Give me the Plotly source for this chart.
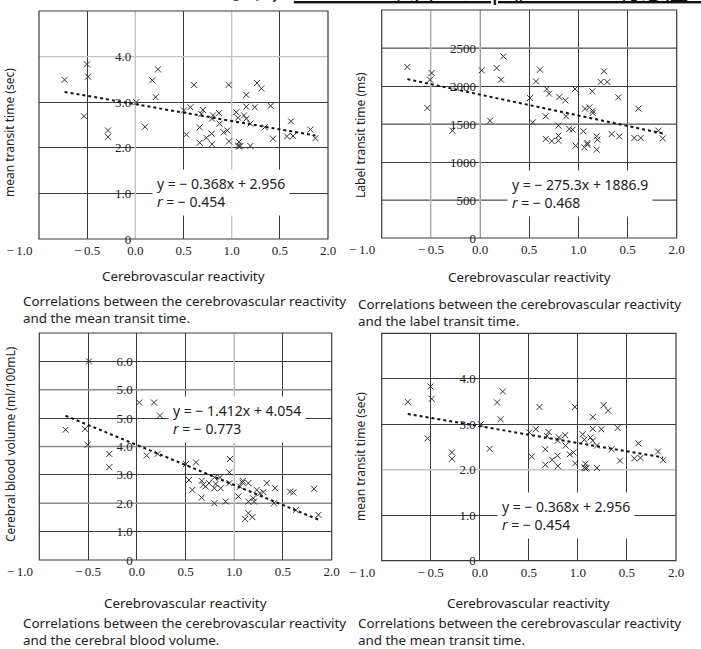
import plotly.graph_objects as go

# ---------------- data ----------------
# Panel A / D : CVR vs mean transit time (sec)
cvr_mtt = [-0.734, -0.502, -0.491, -0.533, -0.284, -0.284, 0.010, 0.100, 0.176, 0.235,
           0.211, 0.505, 0.529, 0.571, 0.609, 0.668, 0.668, 0.685, 0.702, 0.737,
           0.792, 0.796, 0.796, 0.806, 0.869, 0.875, 0.917, 0.955, 0.969, 0.972,
           1.048, 1.066, 1.076, 1.066, 1.076, 1.090, 1.128, 1.152, 1.152, 1.152,
           1.194, 1.194, 1.239, 1.263, 1.308, 1.343, 1.405, 1.429, 1.574, 1.616,
           1.637, 1.817, 1.869]
mtt = [3.49, 3.83, 3.56, 2.69, 2.38, 2.24, 3.00, 2.46, 3.48, 3.72,
       3.11, 2.82, 2.29, 2.89, 3.38, 2.45, 2.11, 2.74, 2.83, 2.22,
       2.31, 2.08, 2.64, 2.71, 2.76, 2.53, 2.34, 2.38, 3.38, 2.14,
       2.78, 2.66, 2.13, 2.05, 2.03, 2.04, 2.71, 3.16, 2.90, 2.64,
       2.53, 2.04, 2.89, 3.42, 3.30, 2.45, 2.92, 2.20, 2.25, 2.58,
       2.26, 2.40, 2.21]

# Panel B : CVR vs label transit time (ms)
cvr_ltt = [-0.739, -0.492, -0.508, -0.536, -0.281, 0.017, 0.102, 0.169, 0.237, 0.214,
           0.508, 0.536, 0.569, 0.610, 0.668, 0.668, 0.678, 0.702, 0.729, 0.797,
           0.797, 0.797, 0.807, 0.868, 0.875, 0.908, 0.942, 0.966, 0.973, 1.051,
           1.061, 1.068, 1.092, 1.092, 1.112, 1.146, 1.146, 1.142, 1.186, 1.193,
           1.186, 1.227, 1.261, 1.295, 1.339, 1.407, 1.417, 1.569, 1.610, 1.634,
           1.814, 1.858]
ltt = [2250, 2171, 2083, 1711, 1412, 2206, 1544, 2237, 2390, 2083,
       1842, 1522, 2061, 2215, 1601, 1303, 1961, 1899, 1276, 1478,
       1347, 1281, 1855, 1811, 1601, 1434, 1425, 1961, 1215, 1404,
       1193, 1702, 1228, 1250, 1719, 1675, 1645, 1930, 1338, 1294,
       1162, 2053, 2193, 2053, 1368, 1851, 1338, 1316, 1702, 1316,
       1412, 1311]

# Panel C : CVR vs cerebral blood volume (ml/100mL)
cvr_cbv = [-0.730, -0.531, -0.490, -0.504, -0.282, -0.282, 0.026, 0.102, 0.177, 0.238,
           0.215, 0.505, 0.536, 0.570, 0.608, 0.666, 0.666, 0.683, 0.707, 0.741,
           0.796, 0.796, 0.796, 0.810, 0.854, 0.861, 0.912, 0.957, 0.950, 0.950,
           1.042, 1.060, 1.083, 1.087, 1.111, 1.145, 1.145, 1.145, 1.186, 1.196,
           1.203, 1.231, 1.265, 1.299, 1.333, 1.408, 1.419, 1.573, 1.607, 1.631,
           1.819, 1.864]
cbv = [4.59, 4.62, 7.00, 4.06, 3.74, 3.27, 5.55, 3.68, 5.55, 5.09,
       3.74, 3.38, 2.82, 2.47, 3.44, 2.79, 2.20, 2.65, 2.59, 2.71,
       2.00, 2.91, 2.53, 2.68, 2.91, 2.53, 2.06, 3.56, 3.09, 2.71,
       2.24, 2.59, 2.73, 2.79, 1.45, 1.65, 2.71, 2.06, 1.51, 2.18,
       2.06, 2.47, 2.35, 2.39, 2.71, 2.00, 2.53, 2.41, 2.38, 1.76,
       2.51, 1.59]

# regression (slope, intercept, r) as printed
fit_mtt = (-0.368, 2.956, -0.454)
fit_ltt = (-275.3, 1886.9, -0.468)
fit_cbv = (-1.412, 4.054, -0.773)

x_tickvals = [-1.0, -0.5, 0.0, 0.5, 1.0, 1.5, 2.0]
x_ticktext = ["\u2212\u20091.0\u2003\u2003\u2003", "\u2212\u20090.5", "0.0", "0.5", "1.0", "0.5", "2.0"]

mtt_tickvals = [0, 1, 2, 3, 4, 5]
mtt_ticktext = ["0", "1.0", "2.0", "3.0", "4.0", ""]
ltt_tickvals = [0, 500, 1000, 1500, 2000, 2500, 3000]
ltt_ticktext = ["0", "500", "1000", "1500", "2000", "2500", ""]
cbv_tickvals = [0, 1, 2, 3, 4, 5, 6, 7, 8]
cbv_ticktext = ["0", "1.0", "2.0", "3.0", "4.0", "5.0", "5.0", "6.0", ""]

x_title = "Cerebrovascular reactivity"
captions = [
    ("Correlations between the cerebrovascular reactivity", "and the mean transit time."),
    ("Correlations between the cerebrovascular reactivity", "and the label transit time."),
    ("Correlations between the cerebrovascular reactivity", "and the cerebral blood volume."),
    ("Correlations between the cerebrovascular reactivity", "and the mean transit time."),
]
top_text = "トン2 mm で 0.012 となり，<u>XS2 mm 以外では p 値 0.05 で有意差がみられた</u>"

# ---------------- layout helpers ----------------
W, H = 701, 649
def px(x): return x / W
def py(y): return 1 - y / H

SERIF = "Liberation Serif"
SANS = "Noto Sans"
DARK = "#3a3a3a"
LIGHT = "#c4c4c4"
MID = "#8c8c8c"

panels = [
    dict(xs=cvr_mtt, ys=mtt, fit=fit_mtt, yrange=[0, 5], tv=mtt_tickvals, tt=mtt_ticktext,
         xd=[39, 328], yd=[239, 11], ytitle="mean transit time (sec)", ytx=10, yty=133,
         xty=276, eq=(152, 192), cap=(21, 301, 319), fmt="{:.3f}", fmtb="{:.3f}",
         grid_over=[("x", 0.0, LIGHT), ("x", 1.0, LIGHT), ("y", 4, LIGHT)]),
    dict(xs=cvr_ltt, ys=ltt, fit=fit_ltt, yrange=[0, 3000], tv=ltt_tickvals, tt=ltt_ticktext,
         xd=[381.7, 676.7], yd=[238, 10], ytitle="Label transit time (ms)", ytx=360, yty=135,
         xty=277, eq=(507, 194), cap=(356, 303, 321), fmt="{:.1f}", fmtb="{:.1f}",
         grid_over=[("x", -0.5, LIGHT), ("x", 0.0, LIGHT), ("y", 2500, MID), ("y", 1500, MID), ("y", 500, MID)]),
    dict(xs=cvr_cbv, ys=cbv, fit=fit_cbv, yrange=[0, 8], tv=cbv_tickvals, tt=cbv_ticktext,
         xd=[39.3, 331.7], yd=[560, 333], ytitle="Cerebral blood volume (ml/100mL)", ytx=10, yty=444,
         xty=603, eq=(168, 419), cap=(21, 622, 640), fmt="{:.3f}", fmtb="{:.3f}",
         grid_over=[("x", 1.0, LIGHT), ("y", 6, MID), ("y", 4, MID), ("y", 2, MID)]),
    dict(xs=cvr_mtt, ys=mtt, fit=fit_mtt, yrange=[0, 5], tv=mtt_tickvals, tt=mtt_ticktext,
         xd=[381.7, 676], yd=[560.7, 333.3], ytitle="mean transit time (sec)", ytx=360, yty=457,
         xty=603, eq=(497, 515), cap=(356, 622, 640), fmt="{:.3f}", fmtb="{:.3f}",
         grid_over=[("y", 2, LIGHT)]),
]

fig = go.Figure()
annotations = []
shapes = []

for i, p in enumerate(panels, start=1):
    xa = "x" if i == 1 else f"x{i}"
    ya = "y" if i == 1 else f"y{i}"
    xkey = "xaxis" if i == 1 else f"xaxis{i}"
    ykey = "yaxis" if i == 1 else f"yaxis{i}"
    x0, x1 = px(p["xd"][0]), px(p["xd"][1])
    y0, y1 = py(p["yd"][0]), py(p["yd"][1])
    zero_pos = x0 + (x1 - x0) / 3.0
    ylo, yhi = p["yrange"]

    # lighter grid lines (scan shading) drawn over the axis grid, under the marks
    for col in sorted(set(c for _, _, c in p["grid_over"])):
        sx, sy = [], []
        for axis, val, c in p["grid_over"]:
            if c != col:
                continue
            if axis == "x":
                sx += [val, val, None]; sy += [ylo, yhi, None]
            else:
                sx += [-1, 2, None]; sy += [val, val, None]
        fig.add_trace(go.Scatter(x=sx, y=sy, mode="lines", xaxis=xa, yaxis=ya,
                                 line=dict(color=col, width=1.4), showlegend=False,
                                 hoverinfo="skip", cliponaxis=False))

    # scatter points
    fig.add_trace(go.Scatter(
        x=p["xs"], y=p["ys"], mode="markers", xaxis=xa, yaxis=ya,
        marker=dict(symbol="x-thin", size=6, color="#333333",
                    line=dict(width=1, color="#333333")),
        showlegend=False, hoverinfo="skip"))
    # trend line from fitted equation over the data's x extent
    m, b, r = p["fit"]
    xmin, xmax = min(p["xs"]), max(p["xs"])
    fig.add_trace(go.Scatter(
        x=[xmin, xmax], y=[m * xmin + b, m * xmax + b], mode="lines",
        xaxis=xa, yaxis=ya, line=dict(color="#111111", width=2, dash="dot"),
        showlegend=False, hoverinfo="skip"))

    fig.layout[xkey] = dict(
        domain=[x0, x1], anchor=ya, range=[-1, 2], tickmode="array",
        tickvals=x_tickvals, ticktext=x_ticktext, showgrid=True, gridcolor=DARK,
        gridwidth=1, zeroline=False, showline=False, ticks="", ticklabelstandoff=2,
        tickangle=0, automargin=False,
        tickfont=dict(family=SERIF, size=13, color="#222"))
    fig.layout[ykey] = dict(
        domain=[y0, y1], anchor="free", position=zero_pos, range=p["yrange"],
        tickmode="array", tickvals=p["tv"], ticktext=p["tt"], showgrid=True,
        gridcolor=DARK, gridwidth=1, zeroline=False, showline=False, ticks="",
        ticklabelstandoff=4, tickangle=0, automargin=False,
        tickfont=dict(family=SERIF, size=13, color="#222"))

    # frame
    shapes.append(dict(type="rect", xref=f"{xa} domain", yref=f"{ya} domain",
                       x0=0, x1=1, y0=0, y1=1, line=dict(color=DARK, width=1.2),
                       layer="above"))

    # regression text box
    sgn_m = "\u2212 " if m < 0 else ""
    sgn_r = "\u2212 " if r < 0 else ""
    eq = (f"y = {sgn_m}{p['fmt'].format(abs(m))}x + {p['fmtb'].format(b)}"
          f"<br><i>r</i> = {sgn_r}{abs(r):.3f}")
    annotations.append(dict(
        text=eq, xref="paper", yref="paper", x=px(p["eq"][0]), y=py(p["eq"][1]),
        xanchor="left", yanchor="middle", align="left", showarrow=False,
        bgcolor="white", borderpad=4,
        font=dict(family=SANS, size=14, color="#222")))
    # y title
    annotations.append(dict(
        text=p["ytitle"], xref="paper", yref="paper", x=px(p["ytx"]), y=py(p["yty"]),
        xanchor="center", yanchor="middle", textangle=-90, showarrow=False,
        font=dict(family=SANS, size=12, color="#222")))
    # x title
    annotations.append(dict(
        text=x_title, xref="paper", yref="paper", x=(x0 + x1) / 2, y=py(p["xty"]),
        xanchor="center", yanchor="middle", showarrow=False,
        font=dict(family=SANS, size=13.4, color="#222")))
    # caption (two lines, left aligned)
    cx, cy1, cy2 = p["cap"]
    annotations.append(dict(
        text="<br>".join(captions[i - 1]), xref="paper", yref="paper",
        x=px(cx), y=py((cy1 + cy2) / 2), xanchor="left", yanchor="middle",
        align="left", showarrow=False,
        font=dict(family=SANS, size=13.4, color="#222")))

annotations.append(dict(
    text=top_text, xref="paper", yref="paper", x=px(-13), y=py(8),
    xanchor="left", yanchor="bottom", showarrow=False,
    font=dict(family="Noto Sans CJK JP", size=24, color="#111")))

fig.update_layout(
    width=W, height=H, margin=dict(l=0, r=0, t=0, b=0, autoexpand=False),
    paper_bgcolor="white", plot_bgcolor="white",
    annotations=annotations, shapes=shapes, showlegend=False)

fig.write_html("out.html", config={"displayModeBar": False},
               post_script="document.body.style.margin='0px';")
